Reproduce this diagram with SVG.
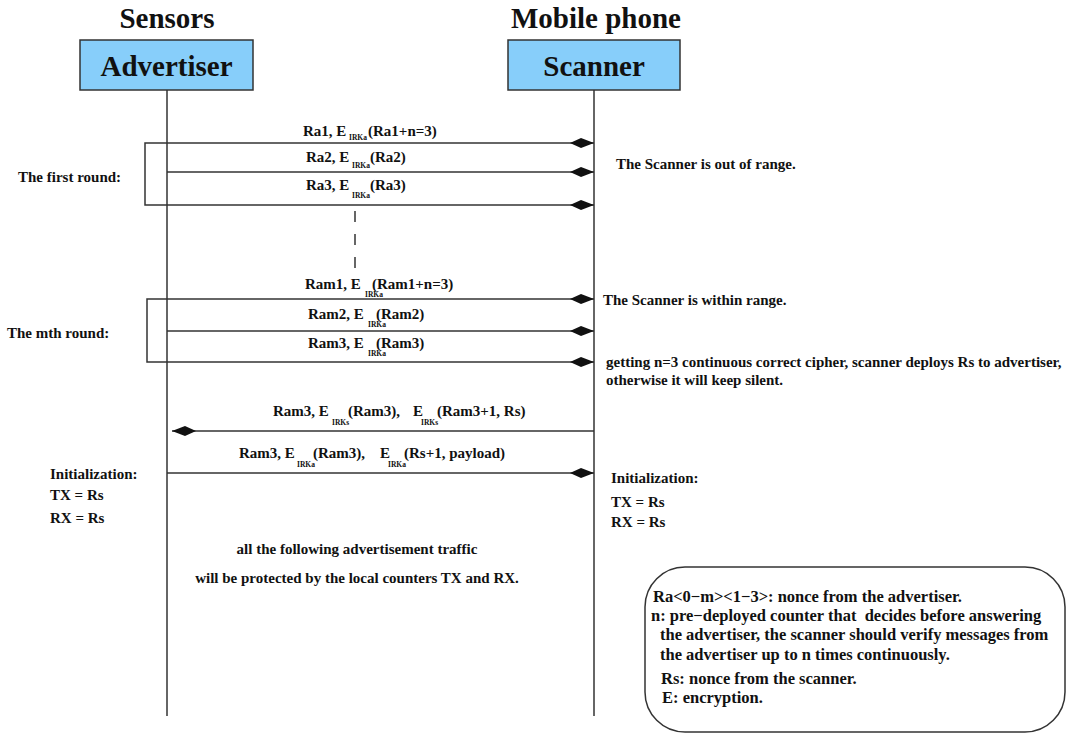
<svg xmlns="http://www.w3.org/2000/svg" width="1077" height="734" viewBox="0 0 1077 734">
  <defs>
    <style>
      text { font-family: "Liberation Serif", "Times New Roman", serif; font-weight: bold; fill: #111; }
      .head { font-size: 29px; text-anchor: middle; }
      .lbl { font-size: 15px; }
      .sub { font-size: 7.5px; }
      .leg { font-size: 16.5px; }
      .ln { stroke: #333; stroke-width: 1.5; fill: none; }
      .box { fill: #87cefa; stroke: #333; stroke-width: 1.5; }
      .msg { stroke: #333; stroke-width: 1.5; fill: none; marker-end: url(#head); }
    </style>
    <!-- filled lozenge arrowhead used by all messages -->
    <marker id="head" viewBox="0 0 24 10" refX="24" refY="5" markerWidth="24" markerHeight="10" markerUnits="userSpaceOnUse" orient="auto">
      <path d="M0,5 L11,0 L24,5 L11,10 Z" fill="#111"/>
    </marker>
  </defs>

  <rect width="1077" height="734" fill="#fff"/>

  <!-- participants -->
  <g id="advertiser">
    <text class="head" x="167" y="28">Sensors</text>
    <rect class="box" x="80" y="40" width="173" height="50"/>
    <text class="head" x="166.5" y="76">Advertiser</text>
    <line class="ln" x1="167" y1="90" x2="167" y2="716"/>
  </g>
  <g id="scanner">
    <text class="head" x="596" y="28">Mobile phone</text>
    <rect class="box" x="508" y="40" width="172" height="50"/>
    <text class="head" x="594" y="76">Scanner</text>
    <line class="ln" x1="594" y1="90" x2="594" y2="716"/>
  </g>

  <!-- messages -->
  <g id="connectors">
    <line class="msg" x1="167" y1="143" x2="594" y2="143"/>
    <line class="msg" x1="167" y1="172" x2="594" y2="172"/>
    <line class="msg" x1="167" y1="205" x2="594" y2="205"/>
    <line class="msg" x1="167" y1="299" x2="594" y2="299"/>
    <line class="msg" x1="167" y1="331" x2="594" y2="331"/>
    <line class="msg" x1="167" y1="362" x2="594" y2="362"/>
    <line class="msg" x1="594" y1="431" x2="172" y2="431"/>
    <line class="msg" x1="167" y1="473" x2="594" y2="473"/>
    <!-- round brackets -->
    <polyline class="ln" points="167,143 145,143 145,205 167,205"/>
    <polyline class="ln" points="167,299 147,299 147,362 167,362"/>
    <!-- elided rounds -->
    <line class="ln" x1="355" y1="211" x2="355" y2="222"/>
    <line class="ln" x1="355" y1="234" x2="355" y2="245"/>
    <line class="ln" x1="355" y1="257" x2="355" y2="268"/>
  </g>

  <!-- message labels -->
  <g id="labels">
    <text class="lbl" x="303" y="136">Ra1, E<tspan class="sub" x="349" y="140">IRKa</tspan><tspan x="368" y="136">(Ra1+n=3)</tspan></text>
    <text class="lbl" x="306" y="162">Ra2, E<tspan class="sub" x="352" y="168">IRKa</tspan><tspan x="370" y="162">(Ra2)</tspan></text>
    <text class="lbl" x="306" y="190">Ra3, E<tspan class="sub" x="352" y="198">IRKa</tspan><tspan x="370" y="190">(Ra3)</tspan></text>
    <text class="lbl" x="305" y="289">Ram1, E<tspan class="sub" x="365" y="297">IRKa</tspan><tspan x="372" y="289">(Ram1+n=3)</tspan></text>
    <text class="lbl" x="308" y="319">Ram2, E<tspan class="sub" x="368" y="327">IRKa</tspan><tspan x="376" y="319">(Ram2)</tspan></text>
    <text class="lbl" x="308" y="348">Ram3, E<tspan class="sub" x="368" y="356">IRKa</tspan><tspan x="376" y="348">(Ram3)</tspan></text>
    <text class="lbl" x="273" y="416">Ram3, E<tspan class="sub" x="332" y="425">IRKs</tspan><tspan x="348" y="416">(Ram3),</tspan><tspan x="413" y="416">E</tspan><tspan class="sub" x="421" y="425">IRKs</tspan><tspan x="437" y="416">(Ram3+1, Rs)</tspan></text>
    <text class="lbl" x="239" y="458">Ram3, E<tspan class="sub" x="297" y="467">IRKa</tspan><tspan x="313" y="458">(Ram3),</tspan><tspan x="380" y="458">E</tspan><tspan class="sub" x="388" y="467">IRKa</tspan><tspan x="404" y="458">(Rs+1, payload)</tspan></text>
  </g>

  <!-- side notes -->
  <g id="notes">
    <text class="lbl" x="18" y="182">The first round:</text>
    <text class="lbl" x="7" y="338">The mth round:</text>
    <text class="lbl" x="616" y="169">The Scanner is out of range.</text>
    <text class="lbl" x="603" y="305">The Scanner is within range.</text>
    <text class="lbl" x="606" y="367">getting n=3 continuous correct cipher, scanner deploys Rs to advertiser,</text>
    <text class="lbl" x="606" y="385">otherwise it will keep silent.</text>
    <text class="lbl" x="50" y="479">Initialization:</text>
    <text class="lbl" x="50" y="500">TX = Rs</text>
    <text class="lbl" x="50" y="523">RX = Rs</text>
    <text class="lbl" x="611" y="483">Initialization:</text>
    <text class="lbl" x="611" y="507">TX = Rs</text>
    <text class="lbl" x="611" y="527">RX = Rs</text>
    <text class="lbl" x="357" y="554" text-anchor="middle">all the following advertisement traffic</text>
    <text class="lbl" x="357" y="583" text-anchor="middle">will be protected by the local counters TX and RX.</text>
  </g>

  <!-- legend -->
  <g id="legend">
    <rect class="ln" x="645" y="567" width="420" height="165" rx="40" ry="40"/>
    <text class="leg" x="653" y="602">Ra&lt;0−m&gt;&lt;1−3&gt;: nonce from the advertiser.</text>
    <text class="leg" x="651" y="621" xml:space="preserve">n: pre−deployed counter that  decides before answering</text>
    <text class="leg" x="660" y="640">the advertiser, the scanner should verify messages from</text>
    <text class="leg" x="660" y="660">the advertiser up to n times continuously.</text>
    <text class="leg" x="661" y="684">Rs: nonce from the scanner.</text>
    <text class="leg" x="662" y="703">E: encryption.</text>
  </g>
</svg>
